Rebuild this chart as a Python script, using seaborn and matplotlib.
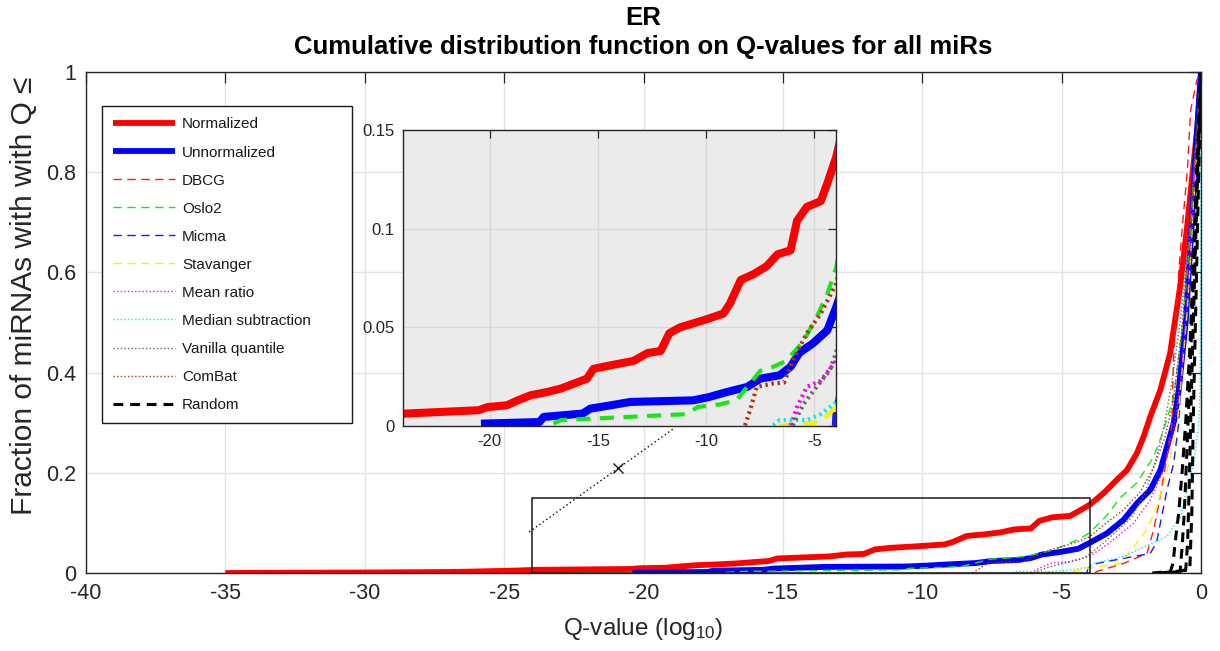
import matplotlib
matplotlib.use("Agg")
import matplotlib.pyplot as plt
import seaborn as sns
import pandas as pd
from matplotlib.lines import Line2D
from matplotlib.patches import Rectangle

# ---------------------------------------------------------------------------
# Cumulative distribution of log10 Q-values, one curve per method.
# Each series is given as breakpoints (log10 Q, fraction of miRNAs).
# ---------------------------------------------------------------------------
normalized_x = [-35, -30, -27, -26, -24.5, -23.9, -20.5, -20.1, -19.2, -18.7, -18.1, -17.35,
                -16.7, -16.1, -15.5, -15.2, -14.3, -13.35, -12.7, -12.1, -11.7, -11.2,
                -10.6, -10.0, -9.2, -8.9, -8.4, -7.8, -7.2, -6.7, -6.1, -5.8, -5.35, -4.7,
                -4.4, -4.0, -3.5, -3.02, -2.66, -2.3, -2.06, -1.82, -1.46, -1.11, -0.75,
                -0.51, -0.3, -0.13, 0]
normalized_y = [0.0, 0.001, 0.002, 0.003, 0.005, 0.0063, 0.008, 0.0096, 0.0105, 0.013, 0.0156,
                0.0172, 0.019, 0.0215, 0.024, 0.029, 0.031, 0.033, 0.037, 0.038, 0.047, 0.050,
                0.052, 0.054, 0.057, 0.062, 0.074, 0.077, 0.081, 0.087, 0.089, 0.104, 0.111,
                0.114, 0.123, 0.136, 0.159, 0.186, 0.205, 0.239, 0.272, 0.312, 0.365, 0.438,
                0.571, 0.685, 0.80, 0.889, 1.0]

unnormalized_x = [-20.4, -17.7, -17.5, -15.7, -15.35, -14.4, -13.5, -10.6, -9.85, -9.05, -8.1,
                  -7.5, -6.6, -6.1, -5.7, -5.05, -4.4, -4.0, -3.38, -2.78, -2.3, -1.82, -1.46,
                  -1.22, -0.98, -0.8, -0.55, -0.35, -0.18, 0]
unnormalized_y = [0.0012, 0.002, 0.0046, 0.0063, 0.0088, 0.0105, 0.0122, 0.013, 0.0147, 0.0172,
                  0.0198, 0.024, 0.0257, 0.030, 0.037, 0.042, 0.0485, 0.060, 0.079, 0.106,
                  0.139, 0.166, 0.205, 0.252, 0.299, 0.365, 0.50, 0.68, 0.85, 1.0]

dbcg_x = [-3.8, -3.74, -2.78, -1.94, -1.7, -1.46, -1.22, -1.04, -0.99, -0.91, -0.8, -0.67,
          -0.49, -0.37, -0.15, 0]
dbcg_y = [0.0, 0.003, 0.019, 0.039, 0.086, 0.153, 0.232, 0.299, 0.42, 0.505, 0.60, 0.69,
          0.804, 0.924, 0.984, 1.0]

oslo2_x = [-17.05, -16.7, -10.9, -10.4, -9.35, -8.6, -8.1, -7.5, -6.9, -6.3, -5.5, -4.9,
           -4.4, -4.0, -3.38, -2.9, -2.3, -1.7, -1.34, -0.98, -0.65, -0.4, -0.2, 0]
oslo2_y = [0.0012, 0.003, 0.006, 0.0096, 0.011, 0.013, 0.0198, 0.028, 0.030, 0.033, 0.043,
           0.055, 0.067, 0.080, 0.115, 0.150, 0.180, 0.232, 0.285, 0.352, 0.50, 0.67, 0.84, 1.0]

micma_x = [-4.1, -4.05, -3.74, -2.42, -1.82, -1.6, -1.46, -1.22, -0.98, -0.8, -0.74, -0.45,
           -0.28, -0.12, 0]
micma_y = [0.0, 0.010, 0.019, 0.033, 0.039, 0.060, 0.099, 0.166, 0.219, 0.299, 0.365, 0.55,
           0.70, 0.88, 1.0]

stavanger_x = [-6.6, -4.7, -4.0, -2.9, -2.42, -1.94, -1.58, -1.34, -1.1, -0.86, -0.74, -0.5,
               -0.3, -0.13, 0]
stavanger_y = [0.0, 0.002, 0.0096, 0.019, 0.052, 0.086, 0.132, 0.179, 0.232, 0.299, 0.365,
               0.52, 0.70, 0.87, 1.0]

mean_ratio_x = [-6.1, -5.8, -5.35, -4.7, -4.0, -3.38, -2.42, -1.82, -1.34, -0.98, -0.7, -0.45,
                -0.22, 0]
mean_ratio_y = [0.0003, 0.0096, 0.0198, 0.023, 0.033, 0.056, 0.099, 0.146, 0.205, 0.285, 0.40,
                0.58, 0.80, 1.0]

median_sub_x = [-6.9, -6.6, -5.35, -4.7, -4.0, -3.86, -2.78, -1.22, -0.74, -0.5, -0.26, -0.08,
                -0.03, -0.01, 0]
median_sub_y = [0.0003, 0.003, 0.003, 0.006, 0.012, 0.019, 0.033, 0.073, 0.112, 0.166, 0.219,
                0.299, 0.365, 0.60, 1.0]

vanilla_x = [-6.0, -5.5, -4.9, -4.3, -4.0, -3.5, -3.0, -2.5, -2.0, -1.6, -1.3, -1.05, -0.75,
             -0.45, -0.22, 0]
vanilla_y = [0.0003, 0.011, 0.0198, 0.028, 0.037, 0.060, 0.085, 0.110, 0.160, 0.230, 0.300,
             0.380, 0.50, 0.66, 0.83, 1.0]

combat_x = [-8.2, -7.97, -7.66, -6.9, -6.4, -6.0, -5.35, -4.7, -4.0, -3.4, -2.8, -2.2, -1.7,
            -1.3, -1.0, -0.7, -0.45, -0.22, 0]
combat_y = [0.0003, 0.008, 0.0198, 0.0215, 0.022, 0.033, 0.047, 0.057, 0.072, 0.100, 0.125,
            0.160, 0.210, 0.270, 0.340, 0.48, 0.65, 0.83, 1.0]

random1_x = [-1.75, -1.1, -1.0, -0.93, -0.8, -0.68, -0.55, -0.4, -0.25, -0.12, 0]
random1_y = [0.0, 0.003, 0.02, 0.06, 0.12, 0.20, 0.30, 0.45, 0.65, 0.85, 1.0]
random2_x = [-1.5, -0.75, -0.68, -0.6, -0.5, -0.38, -0.25, -0.12, 0]
random2_y = [0.0, 0.004, 0.05, 0.12, 0.25, 0.42, 0.62, 0.82, 1.0]
random3_x = [-1.2, -0.55, -0.48, -0.42, -0.35, -0.25, -0.12, 0]
random3_y = [0.0, 0.005, 0.06, 0.18, 0.35, 0.55, 0.80, 1.0]
random4_x = [-0.9, -0.4, -0.33, -0.28, -0.2, -0.1, 0]
random4_y = [0.0, 0.01, 0.12, 0.30, 0.50, 0.75, 1.0]

labels = ["Normalized", "Unnormalized", "DBCG", "Oslo2", "Micma", "Stavanger",
          "Mean ratio", "Median subtraction", "Vanilla quantile", "ComBat", "Random"]

x_ticks = [-40, -35, -30, -25, -20, -15, -10, -5, 0]
x_ticklabels = ["-40", "-35", "-30", "-25", "-20", "-15", "-10", "-5", "0"]
y_ticks = [0, 0.2, 0.4, 0.6, 0.8, 1.0]
y_ticklabels = ["0", "0.2", "0.4", "0.6", "0.8", "1"]
inset_xlim = (-24, -4)
inset_ylim = (0, 0.15)
inset_x_ticks = [-20, -15, -10, -5]
inset_x_ticklabels = ["-20", "-15", "-10", "-5"]
inset_y_ticks = [0, 0.05, 0.1, 0.15]
inset_y_ticklabels = ["0", "0.05", "0.1", "0.15"]

# ---------------------------------------------------------------------------
# Styles per method: colour, line kind, main linewidth, inset linewidth
# ---------------------------------------------------------------------------
DASH, DOT, SOLID, BDASH = "dash", "dot", "solid", "bdash"
styles = {
    "Normalized": ("#ff0000", SOLID, 4.2, 5.8),
    "Unnormalized": ("#0000ff", SOLID, 4.2, 5.8),
    "DBCG": ("#ff1a1a", DASH, 1.0, 3.0),
    "Oslo2": ("#19e619", DASH, 1.0, 3.0),
    "Micma": ("#1a1aff", DASH, 1.0, 3.0),
    "Stavanger": ("#ffee00", DASH, 1.0, 3.0),
    "Mean ratio": ("#ff00ff", DOT, 1.0, 3.0),
    "Median subtraction": ("#00f0f0", DOT, 1.0, 3.0),
    "Vanilla quantile": ("#666666", DOT, 1.0, 3.0),
    "ComBat": ("#b03010", DOT, 1.0, 3.0),
    "Random": ("#000000", BDASH, 2.2, 4.0),
}

series = [
    ("Normalized", normalized_x, normalized_y),
    ("Unnormalized", unnormalized_x, unnormalized_y),
    ("DBCG", dbcg_x, dbcg_y),
    ("Oslo2", oslo2_x, oslo2_y),
    ("Micma", micma_x, micma_y),
    ("Stavanger", stavanger_x, stavanger_y),
    ("Mean ratio", mean_ratio_x, mean_ratio_y),
    ("Median subtraction", median_sub_x, median_sub_y),
    ("Vanilla quantile", vanilla_x, vanilla_y),
    ("ComBat", combat_x, combat_y),
    ("Random", random1_x, random1_y),
    ("Random", random2_x, random2_y),
    ("Random", random3_x, random3_y),
    ("Random", random4_x, random4_y),
]


def linestyle(kind, inset=False):
    scale = 1.7 if inset else 1.0
    if kind == DASH:
        return (0, (6.0 * scale, 4.0 * scale))
    if kind == DOT:
        return (0, (1.0 * scale, 1.6 * scale))
    if kind == BDASH:
        return (0, (7.0, 5.0))
    return "-"


sns.set_style("white")
plt.rcParams["font.family"] = ["Liberation Sans", "DejaVu Sans"]
plt.rcParams["mathtext.default"] = "regular"
plt.rcParams["lines.scale_dashes"] = False
plt.rcParams["lines.solid_capstyle"] = "butt"

AX_COLOR = "#262626"
GRID_COLOR = "#e3e3e3"

fig = plt.figure(figsize=(12.2, 6.51), dpi=100)
ax = fig.add_axes([86 / 1220, 1 - 573 / 651, 1115 / 1220, 501 / 651])
axin = fig.add_axes([403 / 1220, 1 - 426 / 651, 433 / 1220, 296 / 651])

for name, xs, ys in series:
    color, kind, lw_main, lw_in = styles[name]
    df = pd.DataFrame({"q": xs, "frac": ys})
    sns.lineplot(data=df, x="q", y="frac", ax=ax, sort=False, estimator=None,
                 color=color, lw=lw_main, linestyle=linestyle(kind), legend=False)
    sns.lineplot(data=df, x="q", y="frac", ax=axin, sort=False, estimator=None,
                 color=color, lw=lw_in, linestyle=linestyle(kind, inset=True), legend=False)

# --- main axes -------------------------------------------------------------
ax.set_xlim(-40, 0)
ax.set_ylim(0, 1)
ax.set_xticks(x_ticks)
ax.set_xticklabels(x_ticklabels)
ax.set_yticks(y_ticks)
ax.set_yticklabels(y_ticklabels)
ax.grid(True, color=GRID_COLOR, lw=1.0)
ax.set_axisbelow(True)
for sp in ax.spines.values():
    sp.set_visible(True)
    sp.set_color(AX_COLOR)
    sp.set_linewidth(1.0)
ax.tick_params(direction="in", length=8, width=0.9, color=AX_COLOR, labelcolor=AX_COLOR,
               labelsize=15.5, top=True, right=True, pad=7)
ax.set_xlabel("Q-value (log$_{10}$)", fontsize=17.5, color=AX_COLOR, labelpad=9)
ax.set_ylabel("Fraction of miRNAs with with Q \u2264", fontsize=21.5, color=AX_COLOR)
ax.yaxis.set_label_coords(-0.043, 0.553)
ax.set_title("ER\nCumulative distribution function on Q-values for all miRs",
             fontsize=18.5, fontweight="bold", linespacing=1.25, pad=13, color="#000000")

# zoom box and connector
ax.add_patch(Rectangle((inset_xlim[0], inset_ylim[0]), inset_xlim[1] - inset_xlim[0],
                       inset_ylim[1] - inset_ylim[0], fill=False, ec="#1a1a1a", lw=1.1,
                       zorder=5))
conn_x = [inset_xlim[0] - 0.1, -18.9]
conn_y = [0.082, 0.289]
ax.plot(conn_x, conn_y, color="#1a1a1a", ls=(0, (1, 2)), lw=1.1, zorder=5)
ax.plot([-20.9], [0.21], marker="x", color="#1a1a1a", ms=7, mew=1.0, zorder=5)

# --- inset ---------------------------------------------------------------
axin.set_facecolor("#ebebeb")
axin.set_xlim(*inset_xlim)
axin.set_ylim(*inset_ylim)
axin.set_xticks(inset_x_ticks)
axin.set_xticklabels(inset_x_ticklabels)
axin.set_yticks(inset_y_ticks)
axin.set_yticklabels(inset_y_ticklabels)
axin.set_xlabel("")
axin.set_ylabel("")
axin.grid(True, color="#d8d8d8", lw=1.0)
axin.set_axisbelow(True)
for sp in axin.spines.values():
    sp.set_visible(True)
    sp.set_color(AX_COLOR)
    sp.set_linewidth(1.0)
axin.tick_params(direction="in", length=6, width=0.9, color=AX_COLOR, labelcolor=AX_COLOR,
                 labelsize=12, top=True, right=True, pad=6)

# --- legend ----------------------------------------------------------------
legend_handles = []
for n in labels:
    color, kind, lw_main, _ = styles[n]
    legend_handles.append(Line2D([], [], color=color, lw=lw_main, linestyle=linestyle(kind)))
# the longest entry carries trailing space so the box keeps its right margin
legend_labels = [n + "\u00a0" * 7 if n == "Median subtraction" else n for n in labels]
leg = fig.legend(legend_handles, legend_labels, loc="upper left",
                 bbox_to_anchor=(102 / 1220, 1 - 106 / 651), bbox_transform=fig.transFigure,
                 frameon=True, fancybox=False, framealpha=1, edgecolor="#1a1a1a",
                 fontsize=11, handlelength=4.0, handletextpad=0.5, labelspacing=0.92,
                 borderpad=0.75, borderaxespad=0)
leg.get_frame().set_linewidth(1.0)
for t in leg.get_texts():
    t.set_color("#1a1a1a")

fig.savefig("out.png", dpi=100)
